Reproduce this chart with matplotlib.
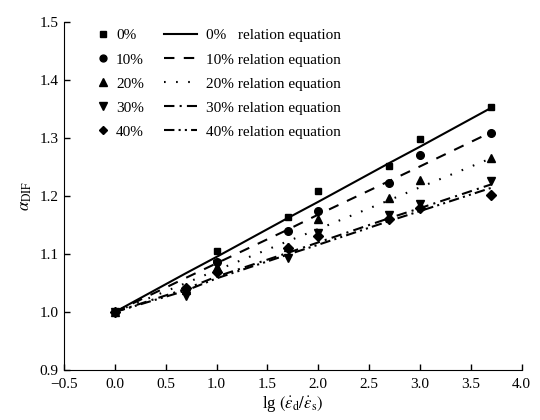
import matplotlib
matplotlib.use("Agg")
from matplotlib import pyplot as plt
from matplotlib.lines import Line2D
from matplotlib.ticker import FuncFormatter

plt.rcParams["font.family"] = ["Liberation Serif", "DejaVu Serif"]
plt.rcParams["mathtext.fontset"] = "stix"
plt.rcParams["font.size"] = 10

# lg of strain rate ratio
x = [0.0, 0.7, 1.0, 1.7, 2.0, 2.7, 3.0, 3.7]

labels = ["0%", "10%", "20%", "30%", "40%"]

# measured DIF
a0 = [1.000, 1.040, 1.105, 1.163, 1.208, 1.251, 1.298, 1.354]
a10 = [1.000, 1.040, 1.087, 1.140, 1.174, 1.222, 1.271, 1.309]
a20 = [1.000, 1.038, 1.078, 1.112, 1.160, 1.196, 1.228, 1.265]
a30 = [1.000, 1.027, 1.082, 1.093, 1.136, 1.168, 1.186, 1.226]
a40 = [1.000, 1.042, 1.069, 1.110, 1.131, 1.161, 1.179, 1.202]

# relation equation values at the same x
f0 = [1.000, 1.067, 1.095, 1.162, 1.190, 1.257, 1.285, 1.352]
f10 = [1.000, 1.059, 1.084, 1.142, 1.168, 1.226, 1.251, 1.310]
f20 = [1.000, 1.050, 1.072, 1.122, 1.143, 1.193, 1.215, 1.265]
f30 = [1.000, 1.040, 1.061, 1.102, 1.120, 1.162, 1.179, 1.220]
f40 = [1.000, 1.037, 1.058, 1.099, 1.116, 1.157, 1.174, 1.214]

measured = [a0, a10, a20, a30, a40]
fitted = [f0, f10, f20, f30, f40]

markers = ["s", "o", "^", "v", "D"]
msizes = [5, 5.5, 6, 6, 5]
dashes = [None, (5, 4.5), (0.8, 5), (5, 2.5, 1, 2.5), (5, 2, 1, 2, 1, 2)]


def fmt(v, pos):
    return ("%.1f" % v).replace("-", "\u2212")


fig = plt.figure(figsize=(5.4, 4.2), dpi=100)
ax = fig.add_axes([0.1185, 0.119, 0.8475, 0.8286])

for i in range(5):
    if dashes[i] is None:
        ax.plot(x, fitted[i], color="black", lw=1.5, ls="-")
    else:
        ax.plot(x, fitted[i], color="black", lw=1.5, dashes=dashes[i])

marker_handles = []
for i in range(5):
    pt, = ax.plot(x, measured[i], ls="none", marker=markers[i], ms=msizes[i],
                  color="black", zorder=3)
    marker_handles.append(pt)

ax.set_xlim(-0.5, 4.0)
ax.set_ylim(0.9, 1.5)
ax.set_xticks([-0.5, 0.0, 0.5, 1.0, 1.5, 2.0, 2.5, 3.0, 3.5, 4.0])
ax.set_yticks([0.9, 1.0, 1.1, 1.2, 1.3, 1.4, 1.5])
ax.xaxis.set_major_formatter(FuncFormatter(fmt))
ax.yaxis.set_major_formatter(FuncFormatter(fmt))
ax.tick_params(direction="in", length=4, width=1, labelsize=11)
ax.tick_params(axis="x", pad=6)
ax.tick_params(axis="y", pad=4)
ax.spines["top"].set_visible(False)
ax.spines["right"].set_visible(False)

ax.set_xlabel(r"lg $(\dot{\varepsilon}_{\rm d}/\dot{\varepsilon}_{\rm s})$", fontsize=12, labelpad=2)
ax.set_ylabel(r"$\alpha_{\rm DIF}$", fontsize=12, labelpad=4)

leg1 = ax.legend(marker_handles, labels, loc="upper left", bbox_to_anchor=(0.042, 1.02),
                 frameon=False, handlelength=0.8, handletextpad=0.45,
                 labelspacing=0.68, fontsize=11, markerscale=0.9)
ax.add_artist(leg1)

line_labels = ["0%   relation equation", "10% relation equation",
               "20% relation equation", "30% relation equation",
               "40% relation equation"]
line_proxies = []
for i in range(5):
    if dashes[i] is None:
        line_proxies.append(Line2D([], [], color="black", lw=1.5, ls="-"))
    else:
        line_proxies.append(Line2D([], [], color="black", lw=1.5, dashes=dashes[i]))
ax.legend(line_proxies, line_labels, loc="upper left", bbox_to_anchor=(0.188, 1.02),
          frameon=False, handlelength=2.2, handletextpad=0.55,
          labelspacing=0.68, fontsize=11)

plt.savefig("out.png")
plt.close()
